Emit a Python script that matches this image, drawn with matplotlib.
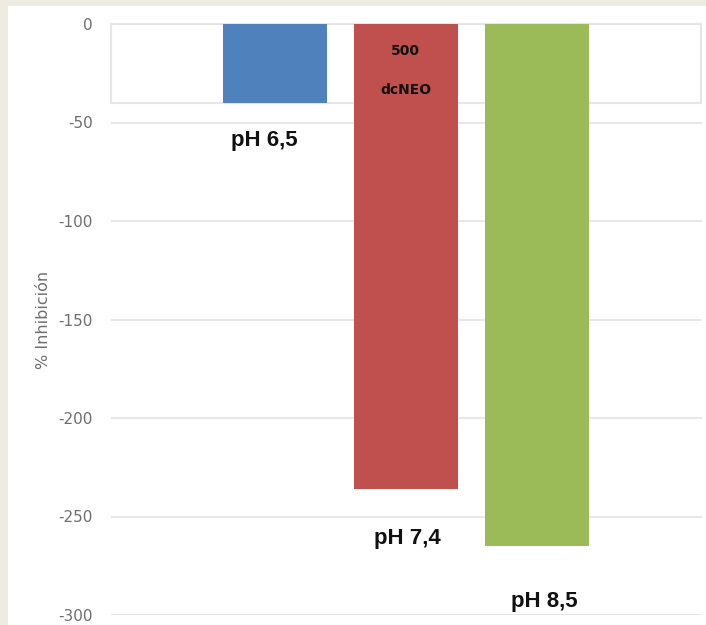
import matplotlib.pyplot as plt
from matplotlib.patches import Rectangle

# === Data ===
categories = ["pH 6,5", "pH 7,4", "pH 8,5"]
inhibition = [-40, -236, -265]
bar_colors = ["#4F81BD", "#C0504D", "#9BBB59"]
yticks = [0, -50, -100, -150, -200, -250, -300]

fig = plt.figure(figsize=(7.06, 6.25), dpi=100)
fig.patch.set_facecolor("#EEEBE1")
# white card behind the chart
fig.patches.append(Rectangle((8 / 706, 0), 1, 1 - 6 / 625, transform=fig.transFigure,
                             facecolor="white", edgecolor="none", zorder=-10))

# plot area: x 111..702 px, y 24..615 px (from top)
ax = fig.add_axes([111 / 706, 10 / 625, (702 - 111) / 706, (615 - 24) / 625])
ax.set_facecolor("none")

x = list(range(len(categories)))
ax.bar(x, inhibition, width=0.79, color=bar_colors, zorder=3)

ax.set_ylim(-300, 0)
ax.set_xlim(-1.25, 3.26)
ax.set_yticks(yticks)
ax.set_yticklabels([str(t) for t in yticks], color="#6E6E6E", fontsize=11)
ax.set_xticks([])
ax.tick_params(axis="y", length=0, pad=13)
ax.grid(axis="y", color="#E3E3E3", linewidth=1.2, zorder=0)
for s in ax.spines.values():
    s.set_visible(False)

ax.set_ylabel("% Inhibición", color="#6E6E6E", fontsize=11.5, labelpad=5)

# faint box left over at the top of the plot area
ax.add_patch(Rectangle((0, 1 - 0.134), 0.9985, 0.134, transform=ax.transAxes,
                       fill=False, edgecolor="#E6E6E6", linewidth=1.5, zorder=1,
                       clip_on=False))

# category labels under the bars
lab_font = dict(fontsize=16, fontweight="bold", family="Liberation Sans", color="#111111",
                ha="center", va="center")
ax.text(x[0] - 0.08, inhibition[0] - 19, categories[0], **lab_font)
ax.text(x[1] + 0.01, inhibition[1] - 25, categories[1], **lab_font)
ax.text(x[2] + 0.06, inhibition[2] - 28, categories[2], **lab_font)

# annotation inside the red bar
ax.text(x[1], -13.5, "500", fontsize=10, fontweight="bold", ha="center", va="center", color="#111111")
ax.text(x[1], -33.5, "dcNEO", fontsize=10, fontweight="bold", ha="center", va="center", color="#111111")

fig.savefig("out.png", dpi=100)
